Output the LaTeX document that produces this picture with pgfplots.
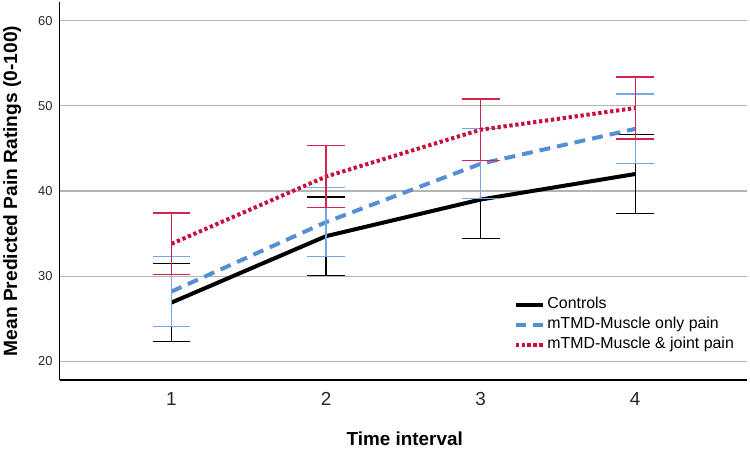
\documentclass[border=0pt]{standalone}
\usepackage{pgfplots}
\pgfplotsset{compat=1.18}
\usepackage{pgfplotstable}
\usepackage{fontspec}
\setmainfont{Liberation Sans}
\definecolor{bluel}{RGB}{86,142,214}
\definecolor{bluee}{RGB}{115,168,228}
\definecolor{redl}{RGB}{200,14,58}
\definecolor{rede}{RGB}{212,36,80}
\definecolor{gridc}{RGB}{180,180,180}

\pgfplotstableread{
x y e
1 26.9 4.6
2 34.7 4.6
3 39.0 4.6
4 42.0 4.65
}\controls
\pgfplotstableread{
x y e
1 28.2 4.1
2 36.35 4.05
3 43.2 4.1
4 47.3 4.1
}\muscle
\pgfplotstableread{
x y e
1 33.8 3.62
2 41.7 3.6
3 47.2 3.6
4 49.75 3.65
}\joint

\begin{document}
\begin{tikzpicture}
\begin{axis}[
  scale only axis, width=689bp, height=379bp,
  xmin=0.277, xmax=4.723, ymin=17.8, ymax=62.2,
  axis x line*=bottom, axis y line*=left,
  axis line style={line width=1.2bp, -},
  xtick={1,2,3,4}, ytick={20,30,40,50,60},
  major tick length=0pt,
  ymajorgrids, grid style={color=gridc, line width=1.2bp},
  /pgf/number format/assume math mode=true,
  xticklabel style={font=\fontsize{19}{22}\selectfont, anchor=base, yshift=-26bp, text=black!85},
  yticklabel style={font=\fontsize{13}{15}\selectfont, anchor=east, inner sep=0pt, xshift=-7bp, text=black!85},
  xlabel={Time interval},
  ylabel={Mean Predicted Pain Ratings (0-100)},
  every axis x label/.style={at={(axis description cs:0.502,-0.174)}, anchor=base, font=\bfseries\fontsize{19}{22}\selectfont},
  every axis y label/.style={at={(axis description cs:-0.069,0.5)}, rotate=90, anchor=center, font=\bfseries\fontsize{19.3}{22}\selectfont},
  legend style={at={(axis description cs:0.66,0.223)}, anchor=north west, draw=none, fill=none,
    font=\fontsize{16}{19}\selectfont, inner sep=0pt, row sep=2bp,
    nodes={inner ysep=1bp, inner xsep=2bp, text height=12bp, text depth=4bp}},
  legend cell align=left,
  legend image code/.code={\draw[#1] (0bp,0bp) -- (28bp,0bp);},
]
\addplot[black, line width=4bp,
  error bars/.cd, y dir=both, y explicit, error mark=|,
  error bar style={line width=1.2bp, solid, black},
  error mark options={mark size=19bp, line width=1.2bp, solid, black}]
  table[x=x, y=y, y error=e] {\controls};
\addlegendentry{Controls}
\addplot[bluel, line width=4bp, dash pattern=on 11bp off 7bp,
  error bars/.cd, y dir=both, y explicit, error mark=|,
  error bar style={line width=1.2bp, solid, bluee},
  error mark options={mark size=19bp, line width=1.2bp, solid, bluee}]
  table[x=x, y=y, y error=e] {\muscle};
\addlegendentry{mTMD-Muscle only pain}
\addplot[redl, line width=4bp, dash pattern=on 3.3bp off 2.7bp,
  error bars/.cd, y dir=both, y explicit, error mark=|,
  error bar style={line width=1.2bp, solid, rede},
  error mark options={mark size=19bp, line width=1.2bp, solid, rede}]
  table[x=x, y=y, y error=e] {\joint};
\addlegendentry{mTMD-Muscle \& joint pain}
\end{axis}
\path (current axis.south west) ++(-58bp,-73bp) rectangle ++(750bp,454bp);
\end{tikzpicture}
\end{document}
